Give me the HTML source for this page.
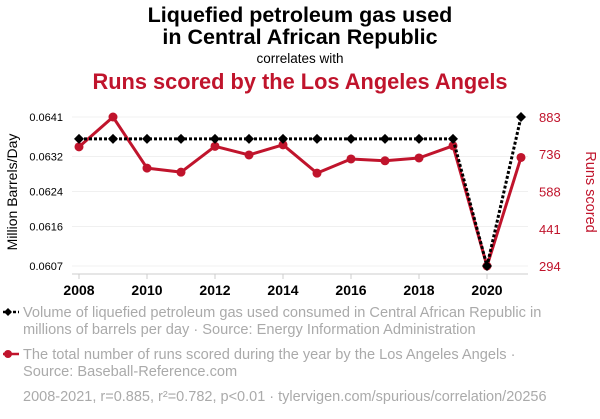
<!DOCTYPE html>
<html><head><meta charset="utf-8"><style>
body{margin:0;background:#fff;width:600px;height:414px;overflow:hidden;font-family:"Liberation Sans",sans-serif}
svg text{font-family:"Liberation Sans",sans-serif}
</style></head><body>
<svg id="c" width="600" height="414">
<text x="300" y="22" text-anchor="middle" font-size="21.5" font-weight="bold" fill="#000">Liquefied petroleum gas used</text>
<text x="300" y="44" text-anchor="middle" font-size="21.5" font-weight="bold" fill="#000">in Central African Republic</text>
<text x="300" y="63" text-anchor="middle" font-size="13.5" fill="#000">correlates with</text>
<text x="300" y="89" text-anchor="middle" font-size="21.8" font-weight="bold" fill="#c0142c">Runs scored by the Los Angeles Angels</text>
<text transform="translate(17,192) rotate(-90)" text-anchor="middle" font-size="14" fill="#000">Million Barrels/Day</text>
<text transform="translate(586,192) rotate(90)" text-anchor="middle" font-size="14.5" fill="#c0142c">Runs scored</text>
<g id="grid"></g><g id="axes"></g><g id="series"></g>
<g font-size="14.6" fill="#aaa">
<line x1="3" y1="312" x2="19" y2="312" stroke="#000" stroke-width="2.5" stroke-dasharray="3,2"/>
<path d="M4 312 L8 308 L12 312 L8 316Z" fill="#000"/>
<text x="23" y="317" fill="#aaa">Volume of liquefied petroleum gas used consumed in Central African Republic in</text>
<text x="23" y="334" fill="#aaa">millions of barrels per day · Source: Energy Information Administration</text>
<line x1="3" y1="354" x2="19" y2="354" stroke="#c0142c" stroke-width="2.5"/>
<circle cx="8" cy="354" r="4" fill="#c0142c"/>
<text x="23" y="359" fill="#aaa">The total number of runs scored during the year by the Los Angeles Angels ·</text>
<text x="23" y="376" fill="#aaa">Source: Baseball-Reference.com</text>
<text x="23" y="401" fill="#aaa" font-size="14.5">2008-2021, r=0.885, r²=0.782, p&lt;0.01 · tylervigen.com/spurious/correlation/20256</text>
</g>
</svg>
<script>
const years=[2008,2009,2010,2011,2012,2013,2014,2015,2016,2017,2018,2019,2020,2021];
const lpg=[0.0636,0.0636,0.0636,0.0636,0.0636,0.0636,0.0636,0.0636,0.0636,0.0636,0.0636,0.0636,0.0607,0.0641];
const runs=[765,883,681,665,767,733,773,661,717,710,721,769,294,723];
const leftTicks=["0.0607","0.0616","0.0624","0.0632","0.0641"];
const rightTicks=["294","441","588","736","883"];
const xTicks=[2008,2010,2012,2014,2016,2018,2020];
const NS="http://www.w3.org/2000/svg";
const X=y=>79+(y-2008)*34;
const YL=v=>266-(v-0.0607)/(0.0641-0.0607)*149;
const YR=v=>266-(v-294)/(883-294)*149;
function mk(t,a,p){const e=document.createElementNS(NS,t);for(const k in a)e.setAttribute(k,a[k]);p.appendChild(e);return e;}
const grid=document.getElementById('grid'),axes=document.getElementById('axes'),ser=document.getElementById('series');
leftTicks.forEach((t,i)=>{const y=YL(+t);
 const g=mk('line',{x1:72,x2:528,y1:y,y2:y,stroke:'#f0f0f0','stroke-width':1},grid);
 
 
 const l=mk('text',{x:63,y:y+4,'text-anchor':'end','font-size':11,fill:'#000'},axes);l.textContent=t;
 
 });
rightTicks.forEach(t=>{const y=YR(+t);
 const l=mk('text',{x:539,y:y+5,'font-size':13,fill:'#c0142c'},axes);l.textContent=t;
 
 });
mk('line',{x1:72,x2:528,y1:274,y2:274,stroke:'#ccc'},axes);
xTicks.forEach(t=>{const x=X(t);mk('line',{x1:x,x2:x,y1:274,y2:279,stroke:'#ccc'},axes);
 const l=mk('text',{x:x,y:295,'text-anchor':'middle','font-size':14,'font-weight':'bold',fill:'#000'},axes);l.textContent=t;
 
 });
const rl=mk('polyline',{points:years.map((y,i)=>X(y)+','+YR(runs[i])).join(' '),fill:'none',stroke:'#c0142c','stroke-width':3,'stroke-linejoin':'round'},ser);


years.forEach((y,i)=>{const c=mk('circle',{cx:X(y),cy:YR(runs[i]),r:4.5,fill:'#c0142c'},ser);
 
 });
const bl=mk('polyline',{points:years.map((y,i)=>X(y)+','+YL(lpg[i])).join(' '),fill:'none',stroke:'#000','stroke-width':3,'stroke-dasharray':'3,2'},ser);


years.forEach((y,i)=>{const x=X(y),yy=YL(lpg[i]);const d=mk('path',{d:`M${x-5} ${yy}L${x} ${yy-5}L${x+5} ${yy}L${x} ${yy+5}Z`,fill:'#000'},ser);
 
 });
</script>
</body></html>
